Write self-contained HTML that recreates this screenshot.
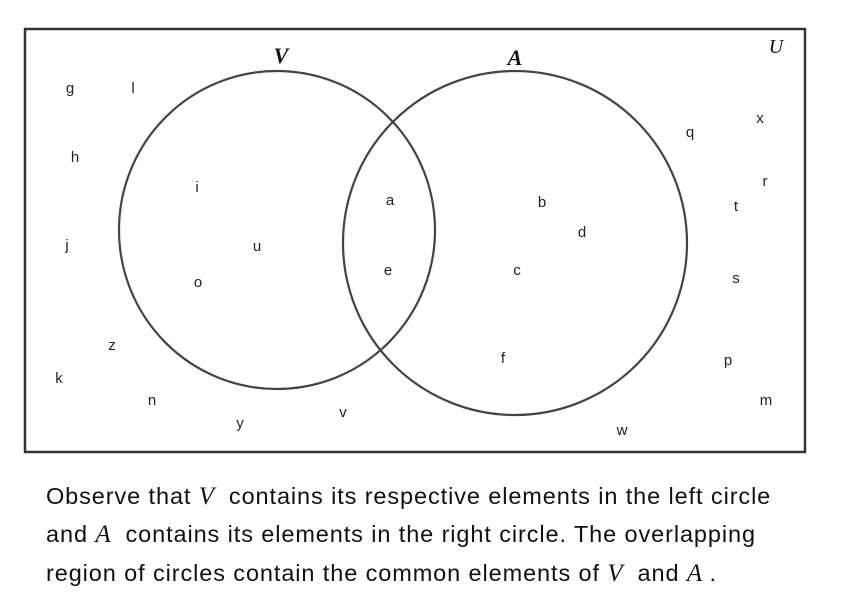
<!DOCTYPE html>
<html><head><style>
body{margin:0;background:#fff;width:846px;height:605px;overflow:hidden;position:relative;font-family:"Liberation Sans",sans-serif}
svg{position:absolute;left:0;top:0}
.cap{position:absolute;left:46px;font-size:23.5px;color:#111;white-space:nowrap;letter-spacing:0.9px}
.m{font-family:"Liberation Serif",serif;font-style:italic;font-size:25px;letter-spacing:0}
</style></head><body>
<svg width="846" height="605">
<rect x="25" y="29" width="780" height="423" fill="none" stroke="#333" stroke-width="2.5"/>
<ellipse cx="277" cy="230" rx="158" ry="159" fill="none" stroke="#444" stroke-width="2.2"/>
<ellipse cx="515" cy="243" rx="172" ry="172" fill="none" stroke="#444" stroke-width="2.2"/>
<g font-family="Liberation Serif,serif" font-style="italic" font-weight="bold" font-size="22" text-anchor="middle" fill="#111">
<text x="281" y="63">V</text><text x="515" y="65">A</text>
<text x="776" y="53" font-weight="normal" font-size="20">U</text>
</g>
<g font-family="Liberation Sans,sans-serif" font-size="15" text-anchor="middle" fill="#222">
<text x="70" y="93">g</text><text x="133" y="93">l</text><text x="75" y="162">h</text>
<text x="197" y="192">i</text><text x="390" y="205">a</text><text x="542" y="207">b</text>
<text x="582" y="237">d</text><text x="690" y="137">q</text><text x="760" y="123">x</text>
<text x="765" y="186">r</text><text x="736" y="211">t</text><text x="67" y="250">j</text>
<text x="257" y="251">u</text><text x="388" y="275">e</text><text x="517" y="275">c</text>
<text x="736" y="283">s</text><text x="198" y="287">o</text><text x="112" y="350">z</text>
<text x="503" y="363">f</text><text x="728" y="365">p</text><text x="59" y="383">k</text>
<text x="152" y="405">n</text><text x="766" y="405">m</text><text x="240" y="428">y</text>
<text x="343" y="417">v</text><text x="622" y="435">w</text>
</g>
</svg>
<div class="cap" style="top:483px">Observe that <span class="m">V</span>&nbsp; contains its respective elements in the left circle</div>
<div class="cap" style="top:521px">and <span class="m">A</span>&nbsp; contains its elements in the right circle. The overlapping</div>
<div class="cap" style="top:560px">region of circles contain the common elements of <span class="m">V</span>&nbsp; and <span class="m">A</span> .</div>
</body></html>
